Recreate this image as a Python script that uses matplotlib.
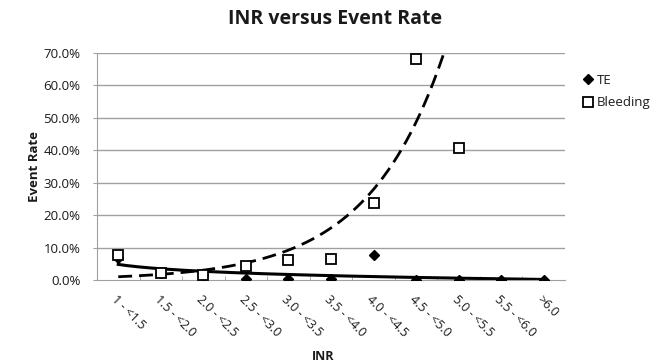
import numpy as np
import matplotlib.pyplot as plt

# INR bins and event rates (%)
inr_bins = ['1 - <1.5', '1.5 - <2.0', '2.0 - <2.5', '2.5 - <3.0', '3.0 - <3.5',
            '3.5 - <4.0', '4.0 - <4.5', '4.5 - <5.0', '5.0 - <5.5', '5.5 - <6.0', '>6.0']
te_rate = [6.8, 2.0, 1.6, 0.4, 0.3, 0.3, 7.6, 0.0, 0.0, 0.0, 0.0]
bleeding_rate = [7.8, 2.0, 1.4, 4.4, 6.1, 6.6, 23.6, 68.2, 40.6]

# exponential trendline for bleeding, y = a * exp(b * x)
bleed_trend_a = 0.574
bleed_trend_b = 0.555

x_te = np.arange(1, len(te_rate) + 1)
x_bl = np.arange(1, len(bleeding_rate) + 1)

# logarithmic trendline for TE (fit on ln x)
k, c = np.polyfit(np.log(x_te), te_rate, 1)
xt = np.linspace(1, len(te_rate), 200)
te_trend = k * np.log(xt) + c

xb = np.linspace(1, len(bleeding_rate), 300)
bl_trend = bleed_trend_a * np.exp(bleed_trend_b * xb)

plt.rcParams['font.family'] = ['Open Sans', 'DejaVu Sans']
txt = '#1a1a1a'

fig = plt.figure(figsize=(6.66, 3.63), dpi=100)
ax = fig.add_axes([0.1456, 0.2287, 0.7027, 0.6253])

for y in range(10, 71, 10):
    ax.axhline(y, color='#a0a0a0', lw=1, zorder=0)

ax.plot(xt, te_trend, color='black', lw=2.2, zorder=2)
ax.plot(xb, bl_trend, color='black', lw=2, dashes=(5, 2.5), zorder=2)

ax.plot(x_te, te_rate, 'D', color='black', ms=5.5, zorder=3, label='TE')
ax.plot(x_bl, bleeding_rate, 's', mfc='white', mec='black', mew=1.3, ms=7,
        zorder=3, label='Bleeding')

ax.set_xlim(0.5, len(inr_bins) + 0.5)
ax.set_ylim(0, 70)
ax.set_yticks(range(0, 71, 10))
ax.set_yticklabels([f'{v:.1f}%' for v in range(0, 71, 10)], fontsize=9.5, color=txt)
ax.set_xticks(x_te)
ax.set_xticklabels(inr_bins, rotation=-45, ha='left', va='top',
                   rotation_mode='anchor', fontsize=9, color=txt)
ax.set_xticks(np.arange(1.5, len(inr_bins), 1), minor=True)
ax.tick_params(axis='x', which='major', length=0, pad=9)
ax.tick_params(axis='x', which='minor', direction='in', length=3, color='#a0a0a0')
ax.tick_params(axis='y', length=3, color='#a0a0a0', pad=9)

for s in ['top', 'right']:
    ax.spines[s].set_visible(False)
ax.spines['left'].set_color('#a0a0a0')
ax.spines['bottom'].set_color('#a0a0a0')

ax.set_ylabel('Event Rate', fontsize=9.5, fontweight='bold', labelpad=2, color=txt)
fig.text(0.485, 0.018, 'INR', fontsize=9, fontweight='bold', ha='center', va='center',
         color=txt)
fig.suptitle('INR versus Event Rate', fontsize=14, fontweight='bold', x=0.503, y=0.975,
             color=txt)

fig.legend(loc='upper left', bbox_to_anchor=(0.857, 0.83), frameon=False,
           fontsize=9.5, handletextpad=0.3, handlelength=0.8, labelspacing=0.75,
           labelcolor=txt)

plt.savefig('out.png', dpi=100)
